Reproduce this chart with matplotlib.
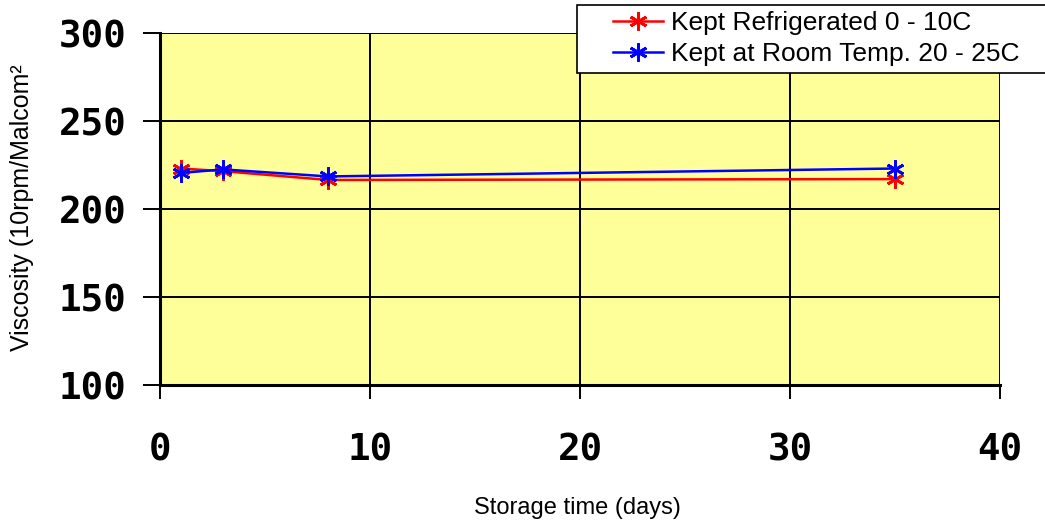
"""
Viscosity vs storage time for refrigerated and room-temperature samples.
"""

import matplotlib
matplotlib.use("Agg")
import matplotlib.pyplot as plt
from matplotlib.patches import Rectangle

# storage time in days
days = [1, 3, 8, 35]
# viscosity readings (10rpm / Malcom)
refrigerated = [223, 221.5, 216.5, 217]
room_temp = [220.5, 222.5, 218.5, 223]

SERIES_LABELS = ["Kept Refrigerated 0 - 10C", "Kept at Room Temp. 20 - 25C"]
X_TICKS = [0, 10, 20, 30, 40]
Y_TICKS = [100, 150, 200, 250, 300]

TICK_FONT = {"family": "DejaVu Sans Mono", "weight": "bold", "size": 27}
TEXT_FONT = "Liberation Sans"

STAR = (6, 2, 0)


def main():
    fig = plt.figure(figsize=(10.45, 5.24), dpi=100)
    W, H = 1045, 524
    ax = fig.add_axes([160 / W, 1 - 385 / H, 840 / W, 352 / H])
    ax.set_facecolor("#FFFF99")

    ax.plot(days, refrigerated, color="#FF0000", lw=1.8, marker=STAR, ms=13,
            mew=2, label=SERIES_LABELS[0])
    ax.plot(days, room_temp, color="#0000FF", lw=1.8, marker=STAR, ms=13,
            mew=2, label=SERIES_LABELS[1])

    ax.set_xlim(0, 40)
    ax.set_ylim(100, 300)
    ax.set_xticks(X_TICKS)
    ax.set_yticks(Y_TICKS)
    ax.grid(True, color="black", lw=1.4)
    ax.set_axisbelow(True)

    for s in ["top", "right"]:
        ax.spines[s].set_visible(False)
    for s in ["left", "bottom"]:
        ax.spines[s].set_linewidth(2.2)

    ax.tick_params(axis="x", direction="out", length=10, width=1.4, pad=24)
    ax.tick_params(axis="y", direction="out", length=12, width=1.4, pad=12)
    for lab in ax.get_xticklabels() + ax.get_yticklabels():
        lab.set_fontfamily(TICK_FONT["family"])
        lab.set_fontweight(TICK_FONT["weight"])
        lab.set_fontsize(TICK_FONT["size"])

    fig.text(577 / W, 1 - 508 / H, "Storage time (days)", family=TEXT_FONT,
             fontsize=17, ha="center", va="center")
    fig.text(22 / W, 1 - 208 / H, "Viscosity (10rpm/Malcom²", family=TEXT_FONT,
             fontsize=18, rotation=90, ha="center", va="center")

    # legend box runs off the right edge in the original, so draw it separately
    fig.patches.append(Rectangle((577 / W, 1 - 73 / H), 500 / W, 68 / H,
                                 transform=fig.transFigure, facecolor="white",
                                 edgecolor="black", lw=1.2, zorder=5))
    fig.legend(loc="upper left", bbox_to_anchor=(608 / W, 1 - 6 / H),
               bbox_transform=fig.transFigure, borderaxespad=0,
               prop={"family": TEXT_FONT, "size": 19}, frameon=False,
               handlelength=1.9, labelspacing=0.25, borderpad=0.2,
               handletextpad=0.3).set_zorder(6)

    fig.savefig("out.png", dpi=100)


if __name__ == "__main__":
    main()
